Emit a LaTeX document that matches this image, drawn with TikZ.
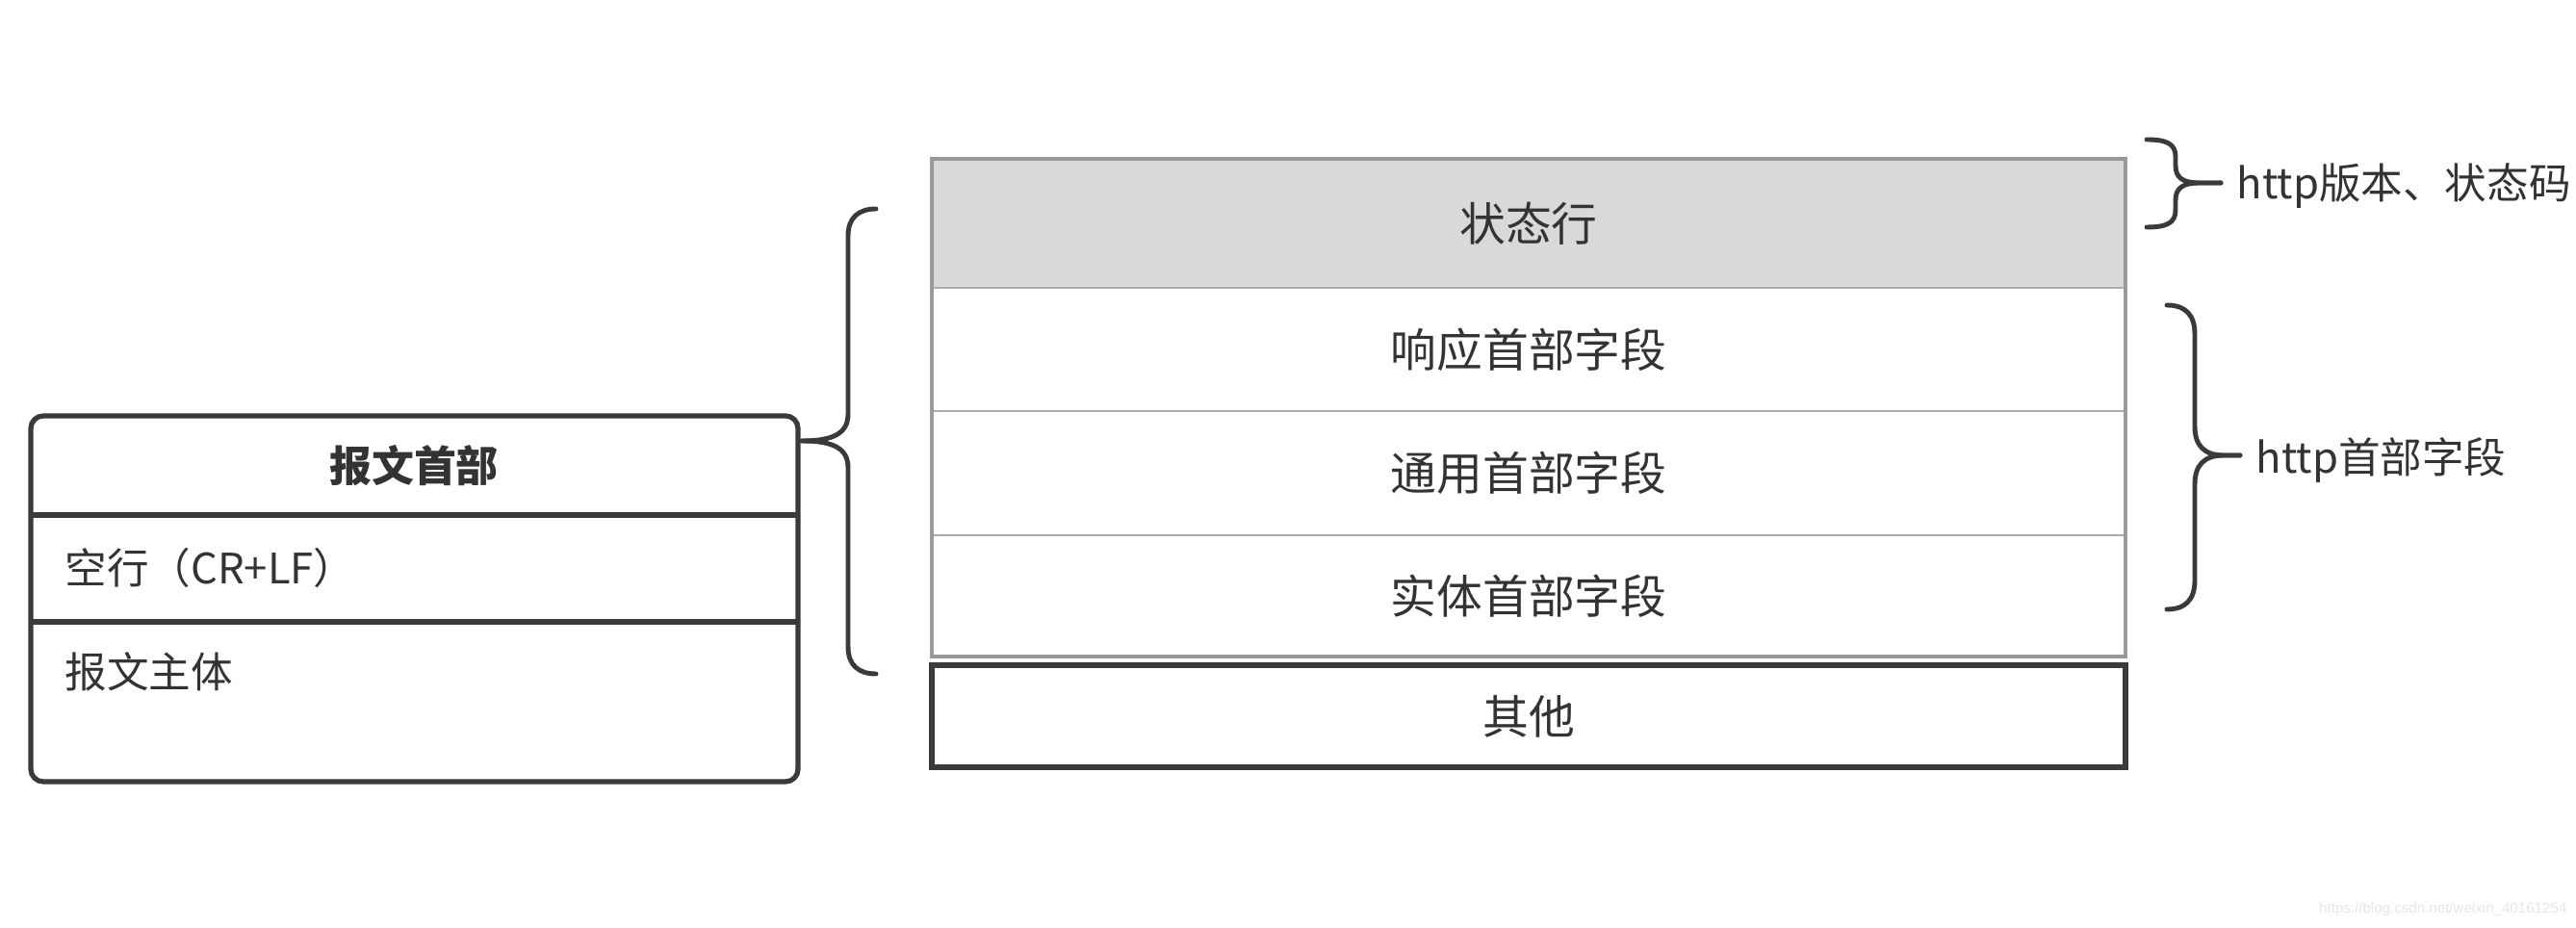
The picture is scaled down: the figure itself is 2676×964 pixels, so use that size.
\documentclass[tikz,border=0pt]{standalone}
\usepackage{fontspec}
\newfontfamily\cjk{Noto Sans CJK SC}
\newfontfamily\wmfont{Liberation Sans}
\definecolor{txt}{HTML}{333333}
\definecolor{dark}{HTML}{3A3A3A}
\definecolor{frame}{HTML}{999999}
\definecolor{divl}{HTML}{ABABAB}
\definecolor{hdr}{HTML}{D9D9D9}
\definecolor{wmc}{HTML}{E6E6E6}
\begin{document}
\begin{tikzpicture}[x=0.1mm,y=-0.1mm,
  rowtext/.style={font=\cjk\fontsize{13.6}{16}\selectfont, text=txt, inner sep=0pt},
  lefttext/.style={font=\cjk\fontsize{12.4}{15}\selectfont, text=txt, inner sep=0pt, anchor=west},
  lbltext/.style={font=\cjk\fontsize{12.4}{15}\selectfont, text=txt, inner sep=0pt, anchor=west},
  darkline/.style={draw=dark, line width=1.5pt},
  bracepath/.style={draw=dark, line width=1.4pt, line cap=round, line join=round}]
\useasboundingbox (0,0) rectangle (2676,964);

% ---------- left box ----------
\draw[darkline, fill=white, rounded corners=1.3mm] (32,432) rectangle (829,812);
\draw[darkline] (32,535) -- (829,535);
\draw[darkline] (32,646) -- (829,646);
\node[font=\cjk\bfseries\fontsize{12.5}{15}\selectfont, text=txt, inner sep=0pt] (title) at (430,484) {报文首部};
\node[lefttext] (blank) at (67,590) {空行（CR+LF）};
\node[lefttext] (body) at (67,698) {报文主体};

% ---------- right stack ----------
\fill[hdr] (968,165) rectangle (2208,299);
\draw[divl, line width=0.8pt] (968,299) -- (2208,299);
\draw[divl, line width=0.8pt] (968,427) -- (2208,427);
\draw[divl, line width=0.8pt] (968,556) -- (2208,556);
\draw[frame, line width=1.2pt] (968,165) rectangle (2208,682);
\node[rowtext] (status) at (1588,232) {状态行};
\node[rowtext] (resp) at (1588,363) {响应首部字段};
\node[rowtext] (gen) at (1588,491) {通用首部字段};
\node[rowtext] (ent) at (1588,619) {实体首部字段};

\draw[darkline] (968,691) rectangle (2208,797);
\node[rowtext] (other) at (1588,744) {其他};

% ---------- left brace ----------
\draw[bracepath] (910,217) .. controls (892,217) and (881,226) .. (881,245) -- (881,430)
  .. controls (881,450) and (866,458) .. (833,458);
\draw[bracepath] (833,458) .. controls (866,458) and (881,466) .. (881,486) -- (881,672)
  .. controls (881,691) and (892,700) .. (910,700);

% ---------- small right brace ----------
\draw[bracepath] (2230,145) .. controls (2252,145) and (2260,150) .. (2260,163) -- (2260,172)
  .. controls (2260,185) and (2268,190) .. (2285,190) -- (2307,190);
\draw[bracepath] (2307,190) -- (2285,190) .. controls (2268,190) and (2260,195) .. (2260,208)
  -- (2260,218) .. controls (2260,231) and (2252,236) .. (2230,236);

% ---------- large right brace ----------
\draw[bracepath] (2251,317) .. controls (2270,317) and (2280,327) .. (2280,347) -- (2280,443)
  .. controls (2280,463) and (2290,473) .. (2310,473) -- (2327,473);
\draw[bracepath] (2327,473) -- (2310,473) .. controls (2290,473) and (2280,483) .. (2280,503)
  -- (2280,603) .. controls (2280,623) and (2270,633) .. (2251,633);

% ---------- labels ----------
\node[lbltext] (lblver) at (2323,193) {http版本、状态码};
\node[lbltext] (lblhdr) at (2343,478) {http首部字段};

\node[anchor=east, font=\wmfont\fontsize{4.3}{5}\selectfont, text=wmc, inner sep=0pt] (wm) at (2667,945) {https://blog.csdn.net/weixin\_40161254};
\end{tikzpicture}
\end{document}
